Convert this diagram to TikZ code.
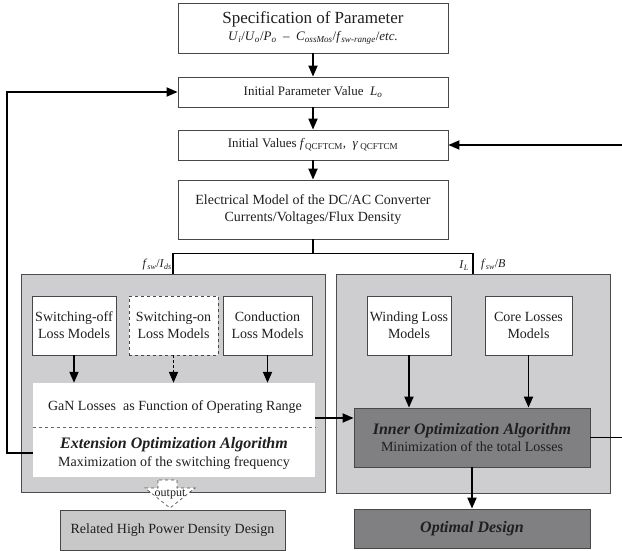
\documentclass[tikz,border=0pt]{standalone}
\usepackage{fontspec}
\setmainfont{Liberation Serif}
\usetikzlibrary{arrows.meta,positioning}
\newcommand{\vsub}[2]{\textit{#1}\textsubscript{\textit{#2}}}
\definecolor{grouplight}{RGB}{206,206,208}
\definecolor{innerdark}{RGB}{128,128,130}
\definecolor{relgray}{RGB}{200,200,200}
\tikzset{
    flowchart/.style={x=1pt,y=-1pt,font=\fontsize{14}{17}\selectfont,text=black!88},
    box/.style={draw=black!72, fill=white, line width=0.8pt, align=center, inner sep=1pt},
    group/.style={draw=black!70, fill=grouplight, line width=0.9pt, inner sep=0pt},
    flow/.style={-{Triangle[length=11pt,width=9pt]}, line width=1.8pt},
    link/.style={line width=1.8pt},
    lbl/.style={font=\fontsize{12}{14}\selectfont, inner sep=1pt},
    algo/.style={font=\fontsize{16}{18}\selectfont\bfseries\itshape},
    }
\begin{document}
\begin{tikzpicture}[flowchart]
    \useasboundingbox (0,0) rectangle (622,551);

    % top chain
    \node[box, minimum width=270pt, minimum height=50pt] (spec) at (313,28)
        {{\fontsize{17}{19}\selectfont Specification of Parameter}\\
         {\fontsize{13}{15}\selectfont\vsub{U}{i}/\vsub{U}{o}/\vsub{P}{o}\ \ -- \ \vsub{C}{ossMos}/\vsub{f}{sw-range}/\textit{etc.}}};
    \node[box, minimum width=270pt, minimum height=30pt, font=\fontsize{13}{15}\selectfont] (init) at (313,92)
        {Initial Parameter Value \ \vsub{L}{o}};
    \node[box, minimum width=270pt, minimum height=30pt, font=\fontsize{13}{15}\selectfont] (initval) at (313,145)
        {Initial Values \textit{f}\textsubscript{QCFTCM}, \ \textit{γ}\,\textsubscript{QCFTCM}};
    \node[box, minimum width=270pt, minimum height=59pt] (elec) at (313,209.5)
        {Electrical Model of the DC/AC Converter\\Currents/Voltages/Flux Density};

    % the two gray groups
    \node[group, minimum width=304pt, minimum height=218pt] (gleft) at (173,383) {};
    \node[group, minimum width=274pt, minimum height=219pt] (gright) at (473,383.5) {};

    % left group
    \node[box, minimum width=84pt, minimum height=59pt] (soff) at (74,325.5) {Switching-off\\Loss Models};
    \node[box, dashed, minimum width=89pt, minimum height=59pt] (son) at (173.5,325.5) {Switching-on\\Loss Models};
    \node[box, minimum width=89pt, minimum height=59pt] (cond) at (267.5,325.5) {Conduction\\Loss Models};
    \node[fill=white, minimum width=282pt, minimum height=94pt, inner sep=0pt] (ganbox) at (174,430) {};
    \node (gan) at (175,407) {GaN Losses \ as Function of Operating Range};
    \node[algo] (ext) at (174,445) {Extension Optimization Algorithm};
    \node (maxf) at (174,463) {Maximization of the switching frequency};
    \draw[dashed, black!60, line width=0.7pt] ([yshift=3pt]ganbox.west) -- ([yshift=3pt]ganbox.east);

    % right group
    \node[box, minimum width=84pt, minimum height=59pt] (wind) at (409,325.5) {Winding Loss\\Models};
    \node[box, minimum width=87pt, minimum height=59pt] (core) at (528.5,325.5) {Core Losses\\Models};
    \node[box, fill=innerdark, minimum width=236pt, minimum height=59pt] (inner) at (472,437.5)
        {{\fontsize{16}{18}\selectfont\bfseries\itshape Inner Optimization Algorithm}\\Minimization of the total Losses};

    % results
    \node[box, algo, fill=innerdark, minimum width=236pt, minimum height=39pt] (optd) at (472,528.5) {Optimal Design};
    \node[box, fill=relgray, minimum width=225pt, minimum height=40pt] (related) at (172.5,530)
        {Related High Power Density Design};

    % output arrow
    \draw[dashed, draw=black!70, fill=white, line width=0.7pt]
        (158,480) -- (158,488) -- (145,488) -- (170,508) -- (195,488) -- (177,488) -- (177,480) -- cycle;
    \node[lbl] (outlbl) at (170,494) {output};

    % connectors
    \path[flow] (spec) edge (init);
    \path[flow] (init) edge (initval);
    \path[flow] (initval) edge (elec);
    \draw[link] (elec.south) -- ++(0,14) -| (gleft.north);
    \draw[link] (elec.south) ++(0,14) -| (gright.north);
    \node[lbl, anchor=south east] (fswids) at ([yshift=2pt]gleft.north) {\vsub{f}{sw}/\vsub{I}{ds}};
    \node[lbl, anchor=south east] (il) at ([xshift=-3pt,yshift=2pt]gright.north) {\vsub{I}{L}};
    \node[lbl, anchor=south west] (fswb) at ([xshift=7pt,yshift=2pt]gright.north) {\vsub{f}{sw}/\textit{B}};

    \path[flow] (soff.south) edge (soff.south |- ganbox.north);
    \path[flow, dash pattern=on 3pt off 2pt] (son.south) edge (son.south |- ganbox.north);
    \path[flow] (cond.south) edge (cond.south |- ganbox.north);
    \path[flow] (wind.south) edge (wind.south |- inner.north);
    \path[flow] (core.south) edge (core.south |- inner.north);
    \path[flow] (inner) edge (optd);

    \coordinate (ga) at (0,418);
    \draw[flow] (ga -| ganbox.east) -- (ga -| inner.west);

    % feedback loops
    \coordinate (lp) at (7,453);
    \draw[link, -{Triangle[length=11pt,width=9pt]}] (lp -| ganbox.west) -- (lp) |- (init.west);
    \coordinate (rp) at (623.5,0);
    \draw[link, -{Triangle[length=11pt,width=9pt]}] (inner.east) -- (inner.east -| rp) |- (initval.east);
\end{tikzpicture}
\end{document}
